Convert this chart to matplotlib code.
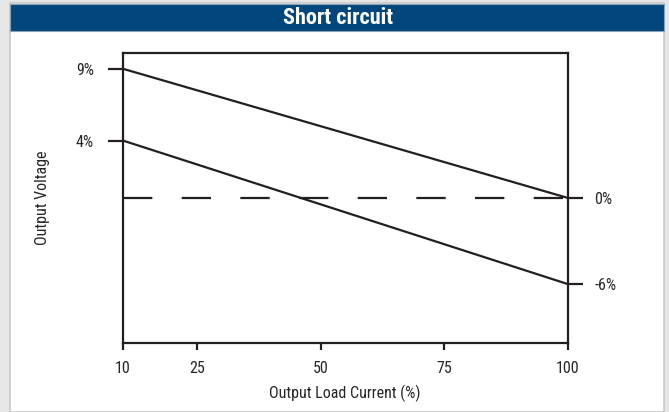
import matplotlib
matplotlib.use("Agg")
import matplotlib.pyplot as plt
from matplotlib.patches import Rectangle

plt.rcParams['font.family'] = ['Liberation Sans Narrow', 'DejaVu Sans Condensed',
                               'Roboto Condensed', 'Roboto', 'DejaVu Sans']

# data
load = [10, 100]
upper_limit = [9, 0]
lower_limit = [4, -6]
nominal = [0, 0]
x_ticks = [10, 25, 50, 75, 100]
left_ticks = [9, 4]
right_ticks = [0, -6]

W, H = 669, 412
ink = '#231f20'
txt = '#262626'

fig = plt.figure(figsize=(W / 100, H / 100), dpi=100)
fig.patch.set_facecolor('#e6e6e6')

# white panel + blue title bar
fig.patches.append(Rectangle((10 / W, 0), 654 / W, 1 - 3 / H, transform=fig.transFigure,
                             facecolor='white', edgecolor='#c9c9c9', linewidth=1.2, zorder=0))
fig.patches.append(Rectangle((10 / W, 1 - 31 / H), 654 / W, 27 / H, transform=fig.transFigure,
                             facecolor='#02467e', edgecolor='#8aa2b8', linewidth=0.8, zorder=1))
fig.text(338 / W, 1 - 18 / H, 'Short circuit', color='white', fontsize=16, fontweight='bold',
         ha='center', va='center')

left, right, top, bottom = 123, 568, 53, 343
ax = fig.add_axes([left / W, 1 - bottom / H, (right - left) / W, (bottom - top) / H])
ax.set_facecolor('none')
ax.set_zorder(3)

ax.plot(load, upper_limit, color=ink, lw=1.6, solid_capstyle='butt')
ax.plot(load, lower_limit, color=ink, lw=1.6, solid_capstyle='butt')
ax.plot(load, nominal, color=ink, lw=1.6, linestyle=(0, (13.2, 13.2)), dash_capstyle='butt')

ax.set_xlim(10, 100)
ax.set_ylim(-10.1, 10.1)
for s in ax.spines.values():
    s.set_color(ink)
    s.set_linewidth(1.6)

ax.set_xticks(x_ticks)
ax.set_xticklabels([str(v) for v in x_ticks])
ax.tick_params(axis='x', direction='out', length=5, width=1.6, color=ink,
               labelsize=11.5, labelcolor=txt, pad=8)

ax.set_yticks(left_ticks)
ax.set_yticklabels([f'{v}%' for v in left_ticks])
ax.tick_params(axis='y', direction='out', length=11, width=1.6, color=ink,
               labelsize=11.5, labelcolor=txt, pad=10)

ax2 = ax.twinx()
ax2.set_zorder(4)
ax2.set_facecolor('none')
ax2.set_ylim(ax.get_ylim())
ax2.set_yticks(right_ticks)
ax2.set_yticklabels([f'{v}%' for v in right_ticks])
ax2.tick_params(axis='y', direction='out', length=11, width=1.6, color=ink,
                labelsize=11.5, labelcolor=txt, pad=8)
for s in ax2.spines.values():
    s.set_visible(False)

fig.text(345 / W, 1 - 393 / H, 'Output Load Current (%)', color=txt, fontsize=11.5,
         ha='center', va='center')
fig.text(42 / W, 1 - 198 / H, 'Output Voltage', color=txt, fontsize=11.5,
         ha='center', va='center', rotation=90)

fig.savefig('out.png', dpi=100, facecolor=fig.get_facecolor())
